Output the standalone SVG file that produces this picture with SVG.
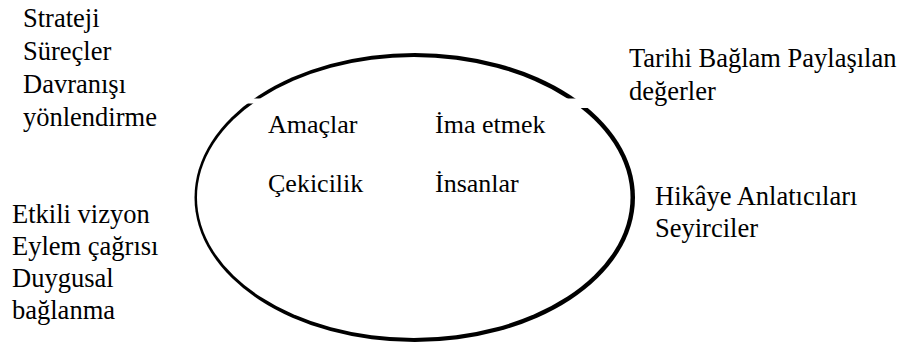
<svg xmlns="http://www.w3.org/2000/svg" width="902" height="347" viewBox="0 0 902 347">
<style>
text{font-family:"Liberation Serif","Times New Roman",serif;font-size:26.5px;fill:#000}
.in{font-size:26px}
</style>
<rect width="902" height="347" fill="#fff"/>
<g id="ellipse">
<ellipse cx="414.75" cy="197.5" rx="220.25" ry="144.5" fill="#000"/>
<ellipse cx="413.75" cy="197.5" rx="216.75" ry="140.5" fill="#fff"/>
<rect x="238" y="98.5" width="22" height="5" fill="#fff"/>
<rect x="565" y="98.5" width="32" height="9.5" fill="#fff"/>
<rect x="190" y="181.5" width="4" height="1.5" fill="#fff"/>
</g>
<g id="center-labels">
<text class="in" x="268" y="133">Amaçlar</text>
<text class="in" x="435" y="133">İma etmek</text>
<text class="in" x="268" y="192">Çekicilik</text>
<text class="in" x="435" y="192">İnsanlar</text>
</g>
<g id="top-left">
<text x="23" y="27">Strateji</text>
<text x="23" y="60">Süreçler</text>
<text x="23" y="93">Davranışı</text>
<text x="23" y="126">yönlendirme</text>
</g>
<g id="bottom-left">
<text x="12" y="223">Etkili vizyon</text>
<text x="12" y="255">Eylem çağrısı</text>
<text x="12" y="287">Duygusal</text>
<text x="12" y="319">bağlanma</text>
</g>
<g id="top-right">
<text x="629" y="67">Tarihi Bağlam Paylaşılan</text>
<text x="629" y="100">değerler</text>
</g>
<g id="bottom-right">
<text x="655" y="205">Hikâye Anlatıcıları</text>
<text x="655" y="237">Seyirciler</text>
</g>
<g id="connectors"/>
</svg>
